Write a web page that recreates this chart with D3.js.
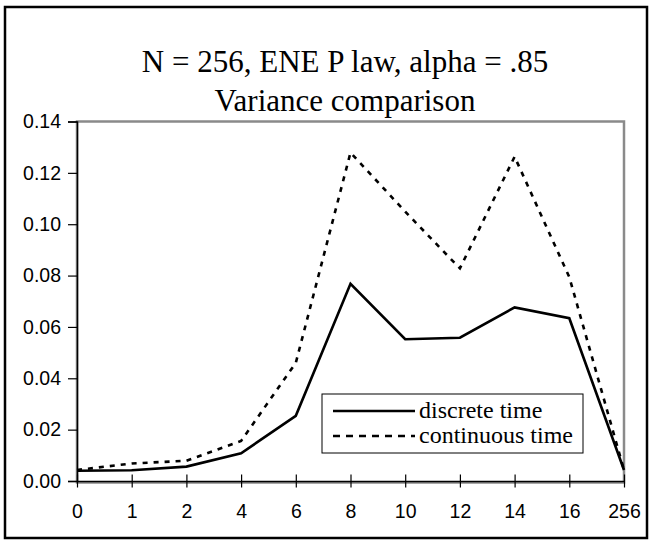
<!DOCTYPE html>
<html><head><meta charset="utf-8">
<script src="https://cdn.jsdelivr.net/npm/d3@7"></script>
<style>body{margin:0;background:#fff}svg{display:block}</style>
</head><body>
<svg id="c" width="650" height="540"></svg>
<script>
const categories = ["0","1","2","4","6","8","10","12","14","16","256"];
const discreteTime = [0.0040,0.0042,0.0056,0.0108,0.0254,0.0768,0.0552,0.0558,0.0676,0.0634,0.0043];
const continuousTime = [0.0043,0.0068,0.0079,0.0156,0.0460,0.1279,0.1049,0.0828,0.1263,0.0794,0.0043];
const yTicks = [0,0.02,0.04,0.06,0.08,0.10,0.12,0.14];
const titleLines = ["N = 256, ENE P law, alpha = .85","Variance comparison"];
const seriesNames = ["discrete time","continuous time"];

const svg = d3.select("#c");
// outer frame
svg.append("rect").attr("x",5).attr("y",7).attr("width",642).attr("height",531)
  .attr("fill","#fff").attr("stroke","#000").attr("stroke-width",2.5);

const L=77,R=624,T=121.5,B=481;
const x = d3.scalePoint().domain(categories).range([L,R]);
const y = d3.scaleLinear().domain([0,0.14]).range([B,T]);

// plot border (gray)
svg.append("rect").attr("x",L).attr("y",T).attr("width",R-L).attr("height",B-T+1.5)
  .attr("fill","none").attr("stroke","#8a8a8a").attr("stroke-width",2.5);

// title
svg.append("g").selectAll("text").data(titleLines).join("text")
  .attr("x",345).attr("y",(d,i)=>72+i*38.5).attr("text-anchor","middle")
  .attr("font-family","Liberation Serif, Times New Roman, serif").attr("font-size",31)
  .text(d=>d);

// y axis
const yAxis = d3.axisLeft(y).tickValues(yTicks).tickFormat(d3.format(".2f")).tickSize(9).tickPadding(7);
const gy = svg.append("g").attr("transform",`translate(${L},0)`).call(yAxis);
gy.select(".domain").attr("stroke","#000").attr("stroke-width",1.5);
gy.selectAll(".tick line").attr("stroke","#000").attr("stroke-width",1.2);
gy.selectAll("text").attr("font-family","Liberation Sans, Arial, sans-serif").attr("font-size",19.5).attr("fill","#000");

// x axis
const xAxis = d3.axisBottom(x).tickSizeInner(7).tickSizeOuter(0).tickPadding(0);
const gx = svg.append("g").attr("transform",`translate(0,${B})`).call(xAxis);
gx.select(".domain").attr("stroke","#000").attr("stroke-width",1.5);
gx.selectAll(".tick line").attr("y1",-6.5).attr("y2",6.5).attr("stroke","#000").attr("stroke-width",1.2);
gx.selectAll("text").attr("y",37).attr("dy",null).attr("font-family","Liberation Sans, Arial, sans-serif").attr("font-size",19.5).attr("fill","#000");

// lines
const line = d3.line().x((d,i)=>x(categories[i])).y(d=>y(d));
svg.append("path").datum(continuousTime).attr("d",line).attr("fill","none")
  .attr("stroke","#000").attr("stroke-width",2.6).attr("stroke-dasharray","5,6");
svg.append("path").datum(discreteTime).attr("d",line).attr("fill","none")
  .attr("stroke","#000").attr("stroke-width",2.6).attr("stroke-linejoin","miter");

// legend
const lg = svg.append("g");
lg.append("rect").attr("x",322).attr("y",394).attr("width",261).attr("height",59)
  .attr("fill","#fff").attr("stroke","#000").attr("stroke-width",1);
const dashes = [null,"7,6"];
seriesNames.forEach((n,i)=>{
  const yy = 411+i*25;
  lg.append("line").attr("x1",333).attr("x2",415).attr("y1",yy).attr("y2",yy)
    .attr("stroke","#000").attr("stroke-width",2.6).attr("stroke-dasharray",dashes[i]);
  lg.append("text").attr("x",419).attr("y",yy+7).attr("font-family","Liberation Serif, Times New Roman, serif")
    .attr("font-size",24).text(n);
});
</script>
</body></html>
